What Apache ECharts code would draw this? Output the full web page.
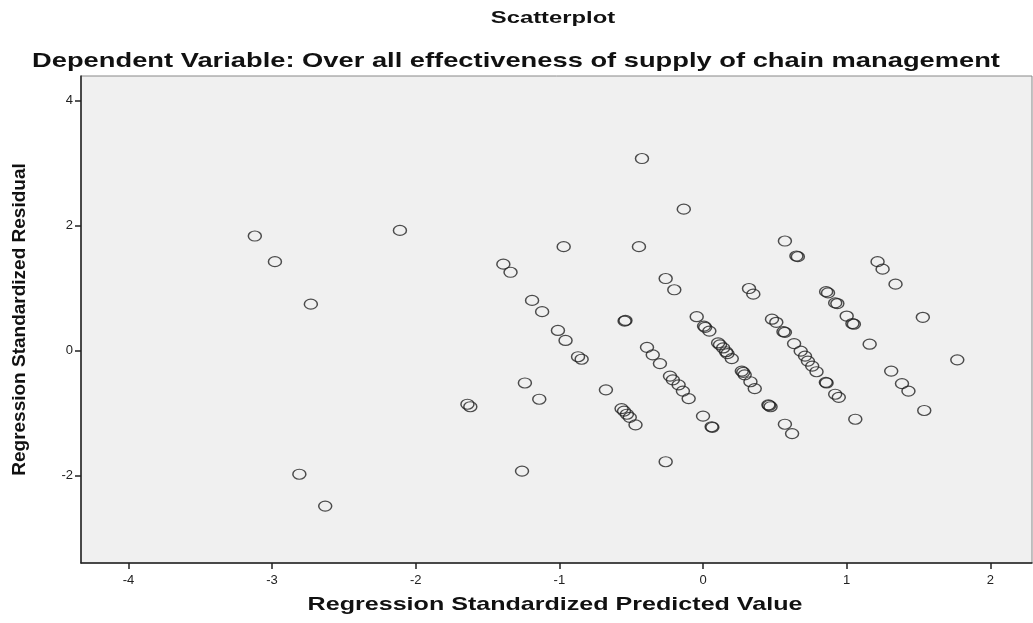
<!DOCTYPE html>
<html><head><meta charset="utf-8">
<script src="https://cdn.jsdelivr.net/npm/echarts@6/dist/echarts.min.js"></script>
<style>html,body{margin:0;padding:0;background:#fff}#c{width:1033px;height:623px}</style>
</head><body><div id="c"></div>
<script>
const predicted = [-3.12,-2.98,-2.73,-2.11,-2.81,-2.63,-1.64,-1.62,-1.26,-1.24,-1.14,-1.39,-1.34,-1.19,-1.12,-1.01,-0.957,-0.87,-0.845,-0.97,-0.676,-0.425,-0.446,-0.134,-0.546,-0.54,-0.26,-0.20,-0.39,-0.35,-0.30,-0.23,-0.21,-0.17,-0.14,-0.10,-0.567,-0.55,-0.53,-0.51,-0.47,-0.26,0.0,0.06,0.065,-0.044,0.007,0.015,0.044,0.105,0.118,0.14,0.16,0.17,0.20,0.27,0.28,0.29,0.33,0.36,0.32,0.35,0.455,0.47,0.46,0.57,0.62,0.57,0.65,0.66,0.48,0.51,0.56,0.57,0.634,0.68,0.71,0.73,0.76,0.79,0.855,0.86,0.92,0.945,0.857,0.87,0.92,0.935,1.0,1.04,1.05,1.215,1.25,1.34,1.53,1.16,1.77,1.31,1.385,1.43,1.54,1.06];
const residual = [1.83,1.42,0.74,1.92,-1.98,-2.49,-0.86,-0.90,-1.93,-0.52,-0.78,1.38,1.25,0.80,0.62,0.32,0.16,-0.10,-0.14,1.66,-0.63,3.07,1.66,2.26,0.47,0.48,1.15,0.97,0.05,-0.07,-0.21,-0.41,-0.47,-0.55,-0.65,-0.77,-0.93,-0.97,-1.02,-1.07,-1.19,-1.78,-1.05,-1.22,-1.23,0.54,0.39,0.37,0.31,0.12,0.09,0.04,-0.02,-0.05,-0.13,-0.33,-0.35,-0.39,-0.50,-0.61,0.99,0.90,-0.87,-0.90,-0.88,-1.18,-1.33,1.75,1.51,1.50,0.50,0.45,0.30,0.29,0.11,-0.01,-0.09,-0.17,-0.25,-0.34,-0.51,-0.52,-0.70,-0.75,0.94,0.92,0.76,0.75,0.55,0.43,0.42,1.42,1.30,1.06,0.53,0.10,-0.15,-0.33,-0.53,-0.65,-0.96,-1.10];
const xTicks = [-4,-3,-2,-1,0,1,2];
const yTicks = [-2,0,2,4];
const titleText = 'Scatterplot';
const subtitleText = 'Dependent Variable: Over all effectiveness of supply of chain management';
const xName = 'Regression Standardized Predicted Value';
const yName = 'Regression Standardized Residual';

const pts = predicted.map((v,i)=>[v, residual[i]]);
const chart = echarts.init(document.getElementById('c'), null, {renderer:'canvas'});
const font = 'Liberation Sans, Arial, sans-serif';
chart.setOption({
  backgroundColor:'#fff',
  animation:false,
  graphic:[
    {type:'text', x:553, y:18, scaleX:1.4, style:{text:titleText, font:'bold 17px Liberation Sans, Arial, sans-serif', fill:'#111', align:'center', verticalAlign:'middle'}},
    {type:'text', x:516, y:61, scaleX:1.3, style:{text:subtitleText, font:'bold 21px Liberation Sans, Arial, sans-serif', fill:'#111', align:'center', verticalAlign:'middle'}},
    {type:'text', x:555, y:605, scaleX:1.32, style:{text:xName, font:'bold 19px Liberation Sans, Arial, sans-serif', fill:'#111', align:'center', verticalAlign:'middle'}}
  ],
  grid:{left:81, right:1, top:76, bottom:60, show:true, backgroundColor:'#f0f0f0', borderColor:'#888', borderWidth:1},
  xAxis:{type:'value', min:-4.33, max:2.29,
    axisLine:{show:true, onZero:false, lineStyle:{color:'#222', width:1.5}},
    axisTick:{show:true, length:6, customValues:xTicks, lineStyle:{color:'#222', width:1.5}},
    axisLabel:{customValues:xTicks, fontFamily:font, fontSize:13, color:'#222', margin:11},
    splitLine:{show:false}},
  yAxis:{type:'value', min:-3.40, max:4.39,
    name:yName, nameLocation:'middle', nameGap:52, nameRotate:90,
    nameTextStyle:{fontFamily:font, fontSize:19, fontWeight:'bold', color:'#111'},
    axisLine:{show:true, onZero:false, lineStyle:{color:'#222', width:1.5}},
    axisTick:{show:true, length:6, customValues:yTicks, lineStyle:{color:'#222', width:1.5}},
    axisLabel:{customValues:yTicks, fontFamily:font, fontSize:13, color:'#222', margin:8},
    splitLine:{show:false}},
  series:[{type:'scatter', data:pts, symbol:'circle', symbolSize:[13,10],
    itemStyle:{color:'rgba(0,0,0,0)', borderColor:'#222', borderWidth:1.3}}]
});
</script></body></html>
